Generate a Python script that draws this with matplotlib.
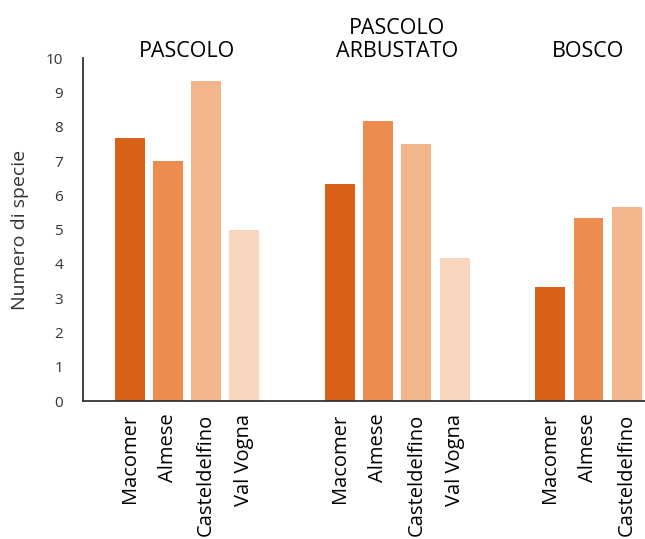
import matplotlib
matplotlib.use('Agg')

import matplotlib.pyplot as plt
import numpy as np

# data
groups = ["PASCOLO", "PASCOLO\nARBUSTATO", "BOSCO"]
sites = ["Macomer", "Almese", "Casteldelfino", "Val Vogna"]
pascolo = [7.67, 7.0, 9.33, 5.0]
arbustato = [6.33, 8.17, 7.5, 4.17]
bosco = [3.33, 5.33, 5.67]

site_colors = ["#DA6218", "#ED8C4F", "#F3B58B", "#F9D7BF"]

plt.rcParams['font.family'] = ['Open Sans', 'DejaVu Sans']

fig = plt.figure(figsize=(6.45, 5.39), dpi=100)
ax = fig.add_axes([0.128, 0.256, 0.872, 0.636])

# slot positions, groups separated by a gap of 2.5 slots
starts = [0, 5.5, 11]
all_x, all_lbl = [], []
for start, vals, name in zip(starts, [pascolo, arbustato, bosco], groups):
    x = start + np.arange(len(vals))
    ax.bar(x, vals, width=0.78, color=site_colors[:len(vals)])
    all_x += list(x)
    all_lbl += sites[:len(vals)]
    ax.text(start + (len(vals) - 1) / 2, 9.9, name, ha='center', va='bottom',
            fontsize=15.5, linespacing=1.1, clip_on=False)

ax.set_xlim(-1.23, 13.48)
ax.set_ylim(0, 10)
ax.set_yticks(range(0, 11))
ax.set_xticks(all_x)
ax.set_xticklabels(all_lbl, rotation=90, fontsize=14.5)
ax.tick_params(axis='both', length=0)
ax.tick_params(axis='y', labelsize=11, labelcolor='#333333', pad=14)
ax.tick_params(axis='x', pad=9)
ax.set_ylabel("Numero di specie", fontsize=14, color='#333333', labelpad=12)

for s in ['top', 'right']:
    ax.spines[s].set_visible(False)
for s in ['left', 'bottom']:
    ax.spines[s].set_color('#333333')
    ax.spines[s].set_linewidth(1.3)

plt.savefig("out.png", dpi=100)
plt.close()
